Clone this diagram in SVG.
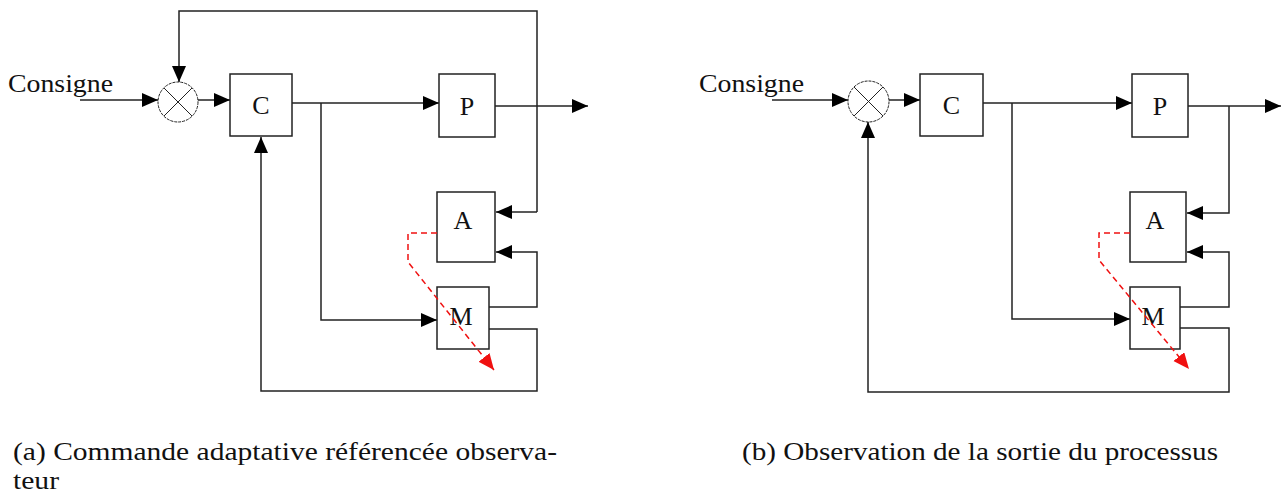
<svg xmlns="http://www.w3.org/2000/svg" width="1284" height="496" viewBox="0 0 1284 496">
<style>
.ln{fill:none;stroke:#222;stroke-width:1.5}
.box{fill:#fff;stroke:#222;stroke-width:1.5}
.sum{fill:#fff;stroke:#222;stroke-width:1;stroke-dasharray:3 1}
.x{stroke:#222;stroke-width:1}
.red{fill:none;stroke:#f01010;stroke-width:1.5;stroke-dasharray:6 4}
.lbl{font-family:"Liberation Serif","Times New Roman",serif;font-size:26px;fill:#111;text-anchor:middle}
.cons{font-family:"Liberation Serif","Times New Roman",serif;font-size:26px;fill:#111}
.cap{font-family:"Liberation Serif","DejaVu Serif",serif;font-size:25px;fill:#111}
.a{marker-end:url(#arr)}
</style>
<defs>
<marker id="arr" markerUnits="userSpaceOnUse" markerWidth="17" markerHeight="15" refX="16" refY="7" orient="auto">
<path d="M0,0 L16,7 L0,14 z" fill="#000"/>
</marker>
<marker id="arrR" markerUnits="userSpaceOnUse" markerWidth="17" markerHeight="15" refX="16" refY="7" orient="auto">
<path d="M0,0 L16,7 L0,14 z" fill="#f01010"/>
</marker>
</defs>

<g id="connectors-a">
<path class="ln a" d="M80,100 H158"/>
<path class="ln a" d="M198,100 H230"/>
<path class="ln a" d="M292,103 H439"/>
<path class="ln a" d="M495,106 H588"/>
<path class="ln a" d="M537,212 V11 H179 V82"/>
<path class="ln a" d="M537,212 H496"/>
<path class="ln a" d="M489,307 H537 V252 H496"/>
<path class="ln a" d="M321,103 V320 H437"/>
<path class="ln a" d="M489,329 H537 V391 H261 V137"/>
</g>
<g id="consigne-a"><text class="cons" x="8" y="92" textLength="105" lengthAdjust="spacingAndGlyphs">Consigne</text></g>
<g id="sum-a">
<circle class="sum" cx="178" cy="102" r="20"/>
<line class="x" x1="164" y1="88" x2="192" y2="116"/>
<line class="x" x1="192" y1="88" x2="164" y2="116"/>
</g>
<g id="C-a"><rect class="box" x="230" y="74" width="62" height="62"/><text class="lbl" x="261" y="114">C</text></g>
<g id="P-a"><rect class="box" x="439" y="74" width="56" height="63"/><text class="lbl" x="467" y="115">P</text></g>
<g id="A-a"><rect class="box" x="437" y="192" width="58" height="70"/><text class="lbl" x="463" y="229">A</text></g>
<g id="M-a"><rect class="box" x="437" y="287" width="52" height="62"/><text class="lbl" x="461" y="325">M</text></g>
<g id="red-a"><path class="red" d="M437,233 H408 V262 L494,370" marker-end="url(#arrR)"/></g>

<g id="connectors-b">
<path class="ln a" d="M772,100 H848"/>
<path class="ln a" d="M889,100 H920"/>
<path class="ln a" d="M983,103 H1132"/>
<path class="ln a" d="M1188,106 H1281"/>
<path class="ln a" d="M1229,106 V213 H1187"/>
<path class="ln a" d="M1180,307 H1229 V252 H1187"/>
<path class="ln a" d="M1012,103 V319 H1130"/>
<path class="ln a" d="M1180,328 H1229 V392 H868 V122"/>
</g>
<g id="consigne-b"><text class="cons" x="699" y="92" textLength="105" lengthAdjust="spacingAndGlyphs">Consigne</text></g>
<g id="sum-b">
<circle class="sum" cx="868.5" cy="101.5" r="20.5"/>
<line class="x" x1="854" y1="87" x2="883" y2="116"/>
<line class="x" x1="883" y1="87" x2="854" y2="116"/>
</g>
<g id="C-b"><rect class="box" x="920" y="74" width="63" height="62"/><text class="lbl" x="951.5" y="114">C</text></g>
<g id="P-b"><rect class="box" x="1132" y="74" width="56" height="63"/><text class="lbl" x="1160" y="115">P</text></g>
<g id="A-b"><rect class="box" x="1130" y="192" width="56" height="70"/><text class="lbl" x="1155" y="229">A</text></g>
<g id="M-b"><rect class="box" x="1130" y="287" width="50" height="62"/><text class="lbl" x="1153" y="325">M</text></g>
<g id="red-b"><path class="red" d="M1130,233 H1099 V260 L1189,369" marker-end="url(#arrR)"/></g>

<g id="captions">
<text class="cap" x="13" y="460" textLength="544" lengthAdjust="spacingAndGlyphs">(a) Commande adaptative référencée observa-</text>
<text class="cap" x="13" y="489" textLength="46" lengthAdjust="spacingAndGlyphs">teur</text>
<text class="cap" x="742" y="460" textLength="476" lengthAdjust="spacingAndGlyphs">(b) Observation de la sortie du processus</text>
</g>
</svg>
